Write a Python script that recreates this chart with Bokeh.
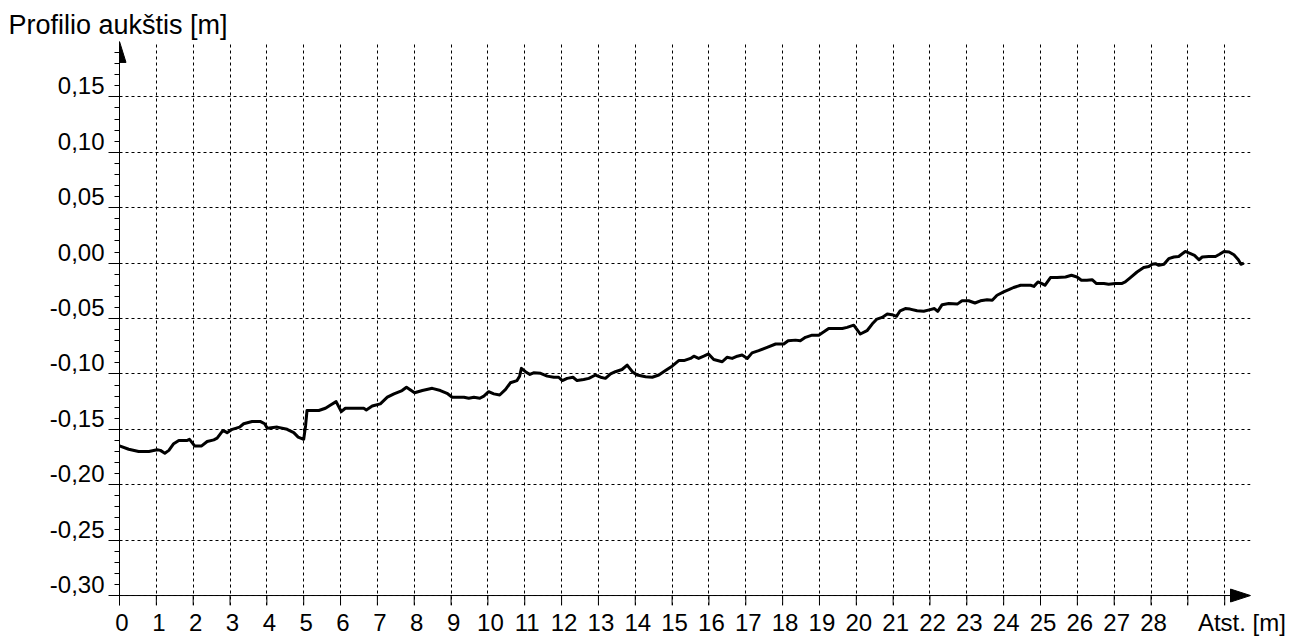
from bokeh.plotting import figure
from bokeh.models import FixedTicker, PolyAnnotation, Range1d, LinearAxis, Span
from bokeh.embed import file_html
from bokeh.resources import INLINE

# ---- data ----
distance_m = [
    0.00, 0.25, 0.52, 0.80, 1.02, 1.11, 1.23, 1.34, 1.47, 1.61, 1.84, 1.90, 2.04, 2.23, 2.38, 2.56,
    2.65, 2.81, 2.92, 3.06, 3.26, 3.37, 3.60, 3.83, 3.94, 4.01, 4.28, 4.55, 4.73, 4.85, 5.00, 5.05,
    5.09, 5.41, 5.59, 5.73, 5.88, 6.02, 6.13, 6.27,
    6.41, 6.63, 6.70, 6.86, 7.08, 7.27, 7.45, 7.67, 7.79, 8.01, 8.22, 8.49, 8.71, 8.89, 9.03, 9.35,
    9.48, 9.62, 9.78, 9.89, 10.02, 10.16, 10.32, 10.48, 10.61, 10.79, 10.86, 10.91, 11.02, 11.14,
    11.24, 11.43, 11.61, 11.79, 11.92, 12.02, 12.15, 12.31,
    12.42, 12.60, 12.74, 12.92, 13.06, 13.19, 13.33, 13.46, 13.64, 13.78, 13.92, 14.05, 14.28, 14.46,
    14.64, 14.82, 15.00, 15.18, 15.32, 15.50, 15.59, 15.72, 15.86, 15.99, 16.13, 16.36, 16.49, 16.63,
    16.77, 16.90, 17.04, 17.17, 17.35, 17.58, 17.81, 18.03, 18.15, 18.35, 18.48,
    18.62, 18.80, 18.98, 19.12, 19.25, 19.43, 19.62, 19.75, 19.93, 20.02, 20.11, 20.29, 20.43, 20.56,
    20.70, 20.84, 20.97, 21.09, 21.19, 21.33, 21.46, 21.65, 21.83, 22.01, 22.12, 22.21, 22.33, 22.51,
    22.74, 22.87, 23.05, 23.22, 23.37, 23.55, 23.69, 23.82, 24.00, 24.14, 24.27, 24.46,
    24.73, 24.82, 24.93, 25.04, 25.12, 25.27, 25.45, 25.68, 25.84, 25.99, 26.11, 26.26, 26.40, 26.52,
    26.72, 26.85, 27.03, 27.20, 27.30, 27.44, 27.62, 27.80, 27.94, 28.03, 28.12, 28.21, 28.35, 28.48,
    28.62, 28.75, 28.93, 29.04, 29.18, 29.30, 29.39, 29.57, 29.75, 29.86, 29.98, 30.12, 30.25, 30.37,
    30.44, 30.52,
]
height_m = [
    -0.165, -0.168, -0.170, -0.170, -0.1685, -0.169, -0.1715, -0.169, -0.163, -0.160, -0.160, -0.159,
    -0.165, -0.165, -0.161, -0.1595, -0.158, -0.151, -0.153, -0.150, -0.148, -0.145, -0.143, -0.143,
    -0.145, -0.149, -0.148, -0.150, -0.153, -0.157, -0.159, -0.147, -0.133, -0.133, -0.131, -0.128,
    -0.125, -0.134, -0.131, -0.131,
    -0.131, -0.131, -0.1325, -0.129, -0.127, -0.121, -0.118, -0.115, -0.112, -0.117, -0.115, -0.113,
    -0.115, -0.1175, -0.121, -0.121, -0.122, -0.121, -0.122, -0.120, -0.116, -0.118, -0.119, -0.114,
    -0.108, -0.106, -0.102, -0.095, -0.098, -0.1005, -0.099, -0.0995, -0.102, -0.103, -0.103, -0.106,
    -0.104, -0.103,
    -0.106, -0.105, -0.104, -0.101, -0.103, -0.104, -0.100, -0.098, -0.096, -0.092, -0.098, -0.101,
    -0.1025, -0.103, -0.101, -0.097, -0.093, -0.088, -0.088, -0.086, -0.084, -0.086, -0.084, -0.082,
    -0.087, -0.089, -0.085, -0.086, -0.084, -0.083, -0.086, -0.081, -0.079, -0.076, -0.073, -0.073,
    -0.070, -0.0695, -0.070,
    -0.067, -0.065, -0.065, -0.062, -0.059, -0.059, -0.059, -0.058, -0.056, -0.060, -0.064, -0.061,
    -0.055, -0.0505, -0.049, -0.046, -0.0465, -0.048, -0.043, -0.041, -0.0415, -0.043, -0.0435, -0.042,
    -0.041, -0.0435, -0.0375, -0.0365, -0.037, -0.034, -0.034, -0.036, -0.034, -0.033, -0.0335, -0.029,
    -0.026, -0.024, -0.022, -0.020,
    -0.020, -0.021, -0.017, -0.0185, -0.020, -0.013, -0.013, -0.0125, -0.011, -0.0125, -0.0155, -0.0155,
    -0.015, -0.0185, -0.0185, -0.019, -0.0185, -0.0185, -0.017, -0.013, -0.008, -0.004, -0.003, -0.001,
    -0.0005, -0.002, -0.001, 0.004, 0.0055, 0.006, 0.0105, 0.009, 0.007, 0.003, 0.0055, 0.006, 0.006,
    0.008, 0.0105, 0.010, 0.0075, 0.003, -0.001, 0.000,
]

x_tick_values = list(range(0, 31))
x_tick_labels = [str(i) for i in range(0, 29)]
y_tick_values = [-0.30, -0.25, -0.20, -0.15, -0.10, -0.05, 0.00, 0.05, 0.10, 0.15]
y_tick_labels = ["-0,30", "-0,25", "-0,20", "-0,15", "-0,10", "-0,05", "0,00", "0,05", "0,10", "0,15"]
y_minor_values = [round(-0.30 + 0.01 * i, 2) for i in range(50)]
y_title = "Profilio aukštis [m]"
x_title = "Atst. [m]"
x_title_pos = 30.40

# ---- layout ----
W, H = 1289, 638
ML, MR, MT = 119, 39, 41
X0, X1 = 0.0, 30.7
Y0, Y1 = -0.30, 0.20
PX_Y = 556 / (Y1 - Y0)          # pixels per metre of height
TICK = 10                       # x tick length, px
Y0_EXT = Y0 - TICK / PX_Y       # frame reaches a little under the x axis
MB = H - MT - int(round((Y1 - Y0_EXT) * PX_Y))
px_x = (W - ML - MR) / (X1 - X0)
FONT = "Liberation Sans"

p = figure(width=W, height=H, x_range=Range1d(X0, X1), y_range=Range1d(Y0_EXT, Y1),
           output_backend="svg", toolbar_location=None, x_axis_location="below",
           min_border_left=ML, min_border_right=MR, min_border_top=MT, min_border_bottom=MB)
p.outline_line_color = None
p.background_fill_color = "white"
p.border_fill_color = "white"

# title (y axis name)
p.title.text = y_title
p.title.align = "left"
p.title.offset = -111
p.title.standoff = 3
p.title.text_font = FONT
p.title.text_font_size = "27px"
p.title.text_font_style = "normal"
p.title.text_color = "black"

# grid
p.xgrid.ticker = FixedTicker(ticks=x_tick_values)
p.ygrid.ticker = FixedTicker(ticks=y_tick_values)
for g in (p.xgrid[0], p.ygrid[0]):
    g.grid_line_color = "black"
    g.grid_line_dash = "3 3"
    g.grid_line_width = 1

# y axis: ticks only (labels drawn by a second axis, raised like the original)
ya = p.yaxis[0]
ya.ticker = FixedTicker(ticks=y_tick_values, minor_ticks=y_minor_values)
ya.axis_line_color = "black"
ya.major_tick_line_color = "black"
ya.minor_tick_line_color = "black"
ya.major_tick_in = 0
ya.major_tick_out = 11
ya.minor_tick_in = 0
ya.minor_tick_out = 5
ya.major_label_overrides = {v: "" for v in y_tick_values}
ya.major_label_standoff = 0

LIFT = 11 / PX_Y
p.extra_y_ranges = {"ylab": Range1d(Y0_EXT - LIFT, Y1 - LIFT)}
yl = LinearAxis(y_range_name="ylab", ticker=FixedTicker(ticks=y_tick_values, minor_ticks=[]),
                major_label_overrides=dict(zip(y_tick_values, y_tick_labels)),
                axis_line_color=None, major_tick_line_color=None, minor_tick_line_color=None,
                major_tick_in=0, major_tick_out=0, minor_tick_in=0, minor_tick_out=0,
                major_label_standoff=4, major_label_text_font=FONT,
                major_label_text_font_size="24px", major_label_text_color="black")
p.add_layout(yl, "left")

# x axis: labels only at the frame bottom (nudged right like the original);
# axis line and ticks drawn at y = -0.30
SHIFT = 2.5 / px_x
p.extra_x_ranges = {"xlab": Range1d(X0 - SHIFT, X1 - SHIFT)}
xa = p.xaxis[0]
xa.x_range_name = "xlab"
xlab_ticks = x_tick_values[:len(x_tick_labels)] + [x_title_pos]
xa.ticker = FixedTicker(ticks=xlab_ticks, minor_ticks=[])
xa.major_label_overrides = {**dict(zip(x_tick_values, x_tick_labels)), x_title_pos: x_title}
xa.axis_line_color = None
xa.major_tick_line_color = None
xa.minor_tick_line_color = None
xa.major_tick_in = 0
xa.major_tick_out = 0
xa.minor_tick_out = 0
xa.major_label_standoff = 3
xa.major_label_text_font = FONT
xa.major_label_text_font_size = "24px"
xa.major_label_text_color = "black"

p.add_layout(Span(location=Y0, dimension="width", line_color="black", line_width=1))
p.segment(x0=x_tick_values, y0=[Y0] * len(x_tick_values), x1=x_tick_values,
          y1=[Y0_EXT] * len(x_tick_values), line_color="black", line_width=1)

# profile line
p.line(distance_m, height_m, line_width=3, line_color="black", line_join="round")

# arrow heads
hw_y = 6.5 / px_x
p.add_layout(PolyAnnotation(xs=[X0, X0 - hw_y, X0 + hw_y], ys=[Y1, Y1 - 21 / PX_Y, Y1 - 21 / PX_Y],
                            fill_color="black", fill_alpha=1, line_color="black", line_alpha=1))
hh_x = 6.5 / PX_Y
p.add_layout(PolyAnnotation(xs=[X1, X1 - 20 / px_x, X1 - 20 / px_x], ys=[Y0, Y0 + hh_x, Y0 - hh_x],
                            fill_color="black", fill_alpha=1, line_color="black", line_alpha=1))

open("out.html", "w").write(file_html(p, INLINE))
